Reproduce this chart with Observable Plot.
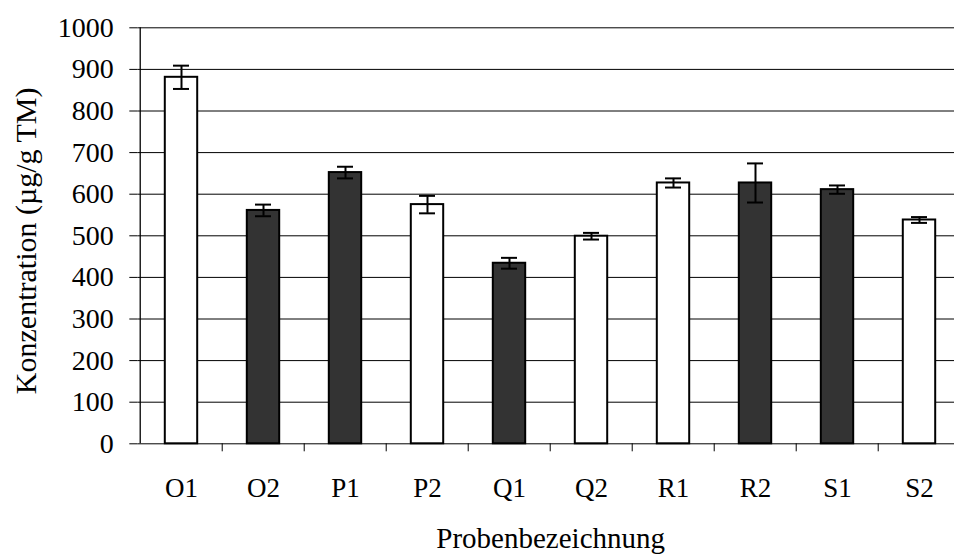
<!DOCTYPE html>
<html>
<head>
<meta charset="utf-8">
<script src="https://cdn.jsdelivr.net/npm/d3@7"></script>
<script src="https://cdn.jsdelivr.net/npm/@observablehq/plot@0.6"></script>
<style>
  html, body { margin: 0; padding: 0; background: #fff; overflow: hidden; }
  #chart svg { display: block; }
</style>
</head>
<body>
<div id="chart"></div>
<script>
// Proben und Messwerte (µg/g TM) mit Standardabweichung
const proben = ["O1", "O2", "P1", "P2", "Q1", "Q2", "R1", "R2", "S1", "S2"];
const konzentration = [881, 561, 652, 575, 434, 499, 627, 627, 611, 538];
const fehler = [28, 14, 14, 21, 13, 8, 11, 47, 10, 7];
const serie = ["1", "2", "2", "1", "2", "1", "1", "2", "2", "1"];
const yTicks = [0, 100, 200, 300, 400, 500, 600, 700, 800, 900, 1000];
const yTitel = "Konzentration (µg/g TM)";
const xTitel = "Probenbezeichnung";

const daten = proben.map((p, i) => ({
  probe: p,
  wert: konzentration[i],
  lo: konzentration[i] - fehler[i],
  hi: konzentration[i] + fehler[i],
  serie: serie[i]
}));

const W = 954, H = 554;
const mLeft = 137.3, mRight = -9, mTop = 27.3, mBottom = 110.7;
const step = (W - mLeft - mRight) / proben.length;
const plotH = H - mTop - mBottom;
const tickLen = 8;
const tickInData = tickLen * (yTicks[yTicks.length - 1] - yTicks[0]) / plotH;
const font = "'Liberation Serif', 'Times New Roman', Times, serif";

const chart = Plot.plot({
  width: W,
  height: H,
  marginLeft: mLeft,
  marginRight: mRight,
  marginTop: mTop,
  marginBottom: mBottom,
  style: { fontFamily: font, fontSize: "27px", color: "#000", background: "#fff" },
  x: { domain: proben, padding: 0, label: null },
  y: { domain: [0, 1000], label: null },
  color: { domain: ["1", "2"], range: ["#ffffff", "#333333"] },
  marks: [
    // horizontale Gitterlinien
    Plot.ruleY(yTicks.filter(d => d > 0), { stroke: "#000", strokeWidth: 1 }),
    // Säulen
    Plot.barY(daten, {
      x: "probe", y: "wert", fill: "serie",
      stroke: "#000", strokeWidth: 2,
      insetLeft: 24.8, insetRight: 24.8
    }),
    // Fehlerbalken
    Plot.ruleX(daten, { x: "probe", y1: "lo", y2: "hi", stroke: "#000", strokeWidth: 2 }),
    Plot.tickY(daten, { x: "probe", y: "lo", stroke: "#000", strokeWidth: 2, insetLeft: 33, insetRight: 33 }),
    Plot.tickY(daten, { x: "probe", y: "hi", stroke: "#000", strokeWidth: 2, insetLeft: 33, insetRight: 33 }),
    // Achsenlinien
    Plot.ruleY([0], { stroke: "#000", strokeWidth: 1 }),
    Plot.ruleX([proben[0]], { dx: -step / 2, stroke: "#000", strokeWidth: 1.3 }),
    // Teilstriche zwischen den Kategorien
    Plot.ruleX(proben.slice(1), { y1: 0, y2: -tickInData, dx: -step / 2, stroke: "#000", strokeWidth: 1 }),
    Plot.axisY({ ticks: yTicks, tickFormat: d => String(d), tickSize: tickLen, tickPadding: 16, fontSize: 28, label: null }),
    Plot.axisX({ tickSize: 0, tickPadding: 34, fontSize: 27, label: null }),
    // Achsentitel
    Plot.text([yTitel], {
      frameAnchor: "left", rotate: -90, dx: -111, dy: 5,
      textAnchor: "middle", lineAnchor: "middle", fontSize: 30, fill: "#000"
    }),
    Plot.text([xTitel], {
      frameAnchor: "bottom", dy: 95,
      textAnchor: "middle", lineAnchor: "middle", fontSize: 29, fill: "#000"
    })
  ]
});

document.getElementById("chart").appendChild(chart);
</script>
</body>
</html>
